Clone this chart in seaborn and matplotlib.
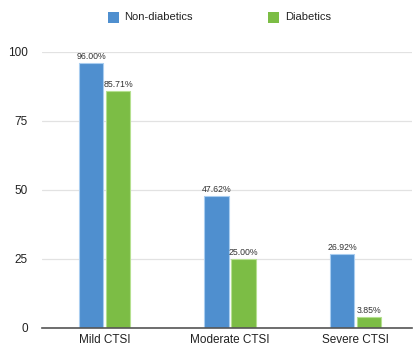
import matplotlib
matplotlib.use("Agg")
import matplotlib.pyplot as plt
import seaborn as sns
import pandas as pd
from matplotlib.patches import Rectangle

categories = ["Mild CTSI", "Moderate CTSI", "Severe CTSI"]
non_diabetics = [96.00, 47.62, 26.92]
diabetics = [85.71, 25.00, 3.85]
series_names = ["Non-diabetics", "Diabetics"]
y_ticks = [0, 25, 50, 75, 100]

colors = ["#4f8fcf", "#7cbd45"]
edge_colors = ["#a9cdf0", "#b5e08f"]

df = pd.DataFrame({
    "category": categories * 2,
    "value": non_diabetics + diabetics,
    "group": [series_names[0]] * 3 + [series_names[1]] * 3,
})

sns.set_style("white")
plt.rcParams["font.family"] = ["Liberation Sans", "DejaVu Sans"]

fig = plt.figure(figsize=(4.14, 3.48), dpi=100)
ax = fig.add_axes([0.101, 0.0575, 0.894, 0.7935])

sns.barplot(data=df, x="category", y="value", hue="group",
            palette=colors, width=0.43, gap=0.1, ax=ax,
            legend=False, saturation=1)

for i, container in enumerate(ax.containers):
    for bar in container:
        bar.set_edgecolor(edge_colors[i])
        bar.set_linewidth(0.8)
    ax.bar_label(container, labels=[f"{v:.2f}%" for v in container.datavalues],
                 fontsize=6.3, color="#333333", padding=1.5)

ax.set_ylim(0, 100)
ax.set_yticks(y_ticks)
ax.set_xlim(-0.5, 2.45)
ax.yaxis.grid(True, color="#e2e2e2", linewidth=0.9)
ax.set_axisbelow(True)
for side in ["top", "right", "left"]:
    ax.spines[side].set_visible(False)
ax.spines["bottom"].set_color("#555555")
ax.spines["bottom"].set_linewidth(1.2)
ax.tick_params(axis="both", length=0, labelsize=8.5, colors="#222222", pad=4)
ax.tick_params(axis="y", pad=10)
ax.set_xlabel("")
ax.set_ylabel("")

# legend across the top
for x0, name, col in [(0.261, series_names[0], colors[0]), (0.648, series_names[1], colors[1])]:
    fig.patches.append(Rectangle((x0, 0.935), 0.026, 0.031, transform=fig.transFigure,
                                 facecolor=col, edgecolor="none"))
    fig.text(x0 + 0.040, 0.951, name, fontsize=8, va="center", ha="left", color="#222222")

fig.savefig("out.png", dpi=100)
